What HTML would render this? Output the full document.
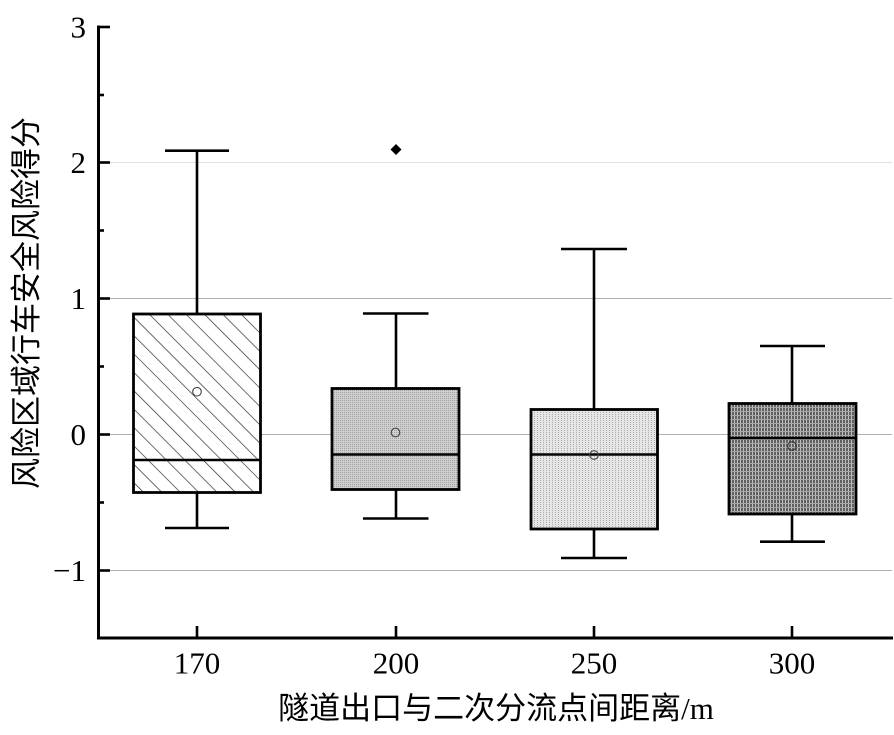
<!DOCTYPE html>
<html>
<head>
<meta charset="utf-8">
<style>
  html, body { margin: 0; padding: 0; background: #fff; }
  svg { display: block; }
  .tl { font-family: "Liberation Serif", "Noto Serif CJK SC", serif; font-size: 31px; fill: #000; }
  .ttl { font-family: "Liberation Serif", "Noto Sans CJK SC", sans-serif; font-size: 31px; fill: #000; }
</style>
</head>
<body>
<svg width="894" height="735" viewBox="0 0 894 735" xmlns="http://www.w3.org/2000/svg">
  <defs>
    <pattern id="hatch" patternUnits="userSpaceOnUse" width="13" height="13" patternTransform="rotate(-45)">
      <rect width="13" height="13" fill="#fff"/>
      <line x1="0" y1="0" x2="0" y2="13" stroke="#222" stroke-width="1.3"/>
    </pattern>
    <pattern id="dots2" patternUnits="userSpaceOnUse" width="2" height="2">
      <rect width="2" height="2" fill="#d0d0d0"/>
      <rect width="1" height="1" fill="#a0a0a0"/>
    </pattern>
    <pattern id="dots3" patternUnits="userSpaceOnUse" width="3" height="2">
      <rect width="3" height="2" fill="#e6e6e6"/>
      <rect width="1" height="1" fill="#aaaaaa"/>
    </pattern>
    <pattern id="vlines" patternUnits="userSpaceOnUse" width="3" height="4">
      <rect width="3" height="4" fill="#c0c0c0"/>
      <rect width="2" height="4" fill="#606060"/>
      <rect y="3" width="3" height="1" fill="#a8a8a8"/>
    </pattern>
  </defs>

  <!-- gridlines -->
  <line x1="99" y1="162.5" x2="892" y2="162.5" stroke="#e0e0e0" stroke-width="1"/>
  <line x1="99" y1="298.5" x2="892" y2="298.5" stroke="#b0b0b0" stroke-width="1"/>
  <line x1="99" y1="434.5" x2="892" y2="434.5" stroke="#b0b0b0" stroke-width="1"/>
  <line x1="99" y1="570.5" x2="892" y2="570.5" stroke="#b0b0b0" stroke-width="1"/>

  <!-- axes -->
  <line x1="98.5" y1="25.5" x2="98.5" y2="639.5" stroke="#000" stroke-width="3"/>
  <line x1="97" y1="638" x2="893" y2="638" stroke="#000" stroke-width="3"/>

  <!-- y ticks -->
  <g stroke="#000" stroke-width="2.6">
    <line x1="98" y1="27" x2="110" y2="27"/>
    <line x1="98" y1="162.5" x2="110" y2="162.5"/>
    <line x1="98" y1="298.5" x2="110" y2="298.5"/>
    <line x1="98" y1="434.5" x2="110" y2="434.5"/>
    <line x1="98" y1="570.5" x2="110" y2="570.5"/>
    <line x1="98" y1="95" x2="104" y2="95"/>
    <line x1="98" y1="230.5" x2="104" y2="230.5"/>
    <line x1="98" y1="366.5" x2="104" y2="366.5"/>
    <line x1="98" y1="502.5" x2="104" y2="502.5"/>
  </g>
  <!-- x ticks -->
  <g stroke="#000" stroke-width="2.6">
    <line x1="197" y1="626" x2="197" y2="638"/>
    <line x1="396" y1="626" x2="396" y2="638"/>
    <line x1="594" y1="626" x2="594" y2="638"/>
    <line x1="792" y1="626" x2="792" y2="638"/>
  </g>

  <!-- y tick labels -->
  <text class="tl" x="86" y="37.5" text-anchor="end">3</text>
  <text class="tl" x="86" y="173" text-anchor="end">2</text>
  <text class="tl" x="86" y="309" text-anchor="end">1</text>
  <text class="tl" x="86" y="445" text-anchor="end">0</text>
  <text class="tl" x="86" y="581" text-anchor="end">−1</text>

  <!-- x tick labels -->
  <text class="tl" x="197" y="673.5" text-anchor="middle">170</text>
  <text class="tl" x="396" y="673.5" text-anchor="middle">200</text>
  <text class="tl" x="594" y="673.5" text-anchor="middle">250</text>
  <text class="tl" x="792" y="673.5" text-anchor="middle">300</text>

  <!-- axis titles -->
  <text class="ttl" x="496" y="719" text-anchor="middle">隧道出口与二次分流点间距离/m</text>
  <text class="ttl" transform="translate(37,303) rotate(-90)" text-anchor="middle">风险区域行车安全风险得分</text>

  <!-- Box 1: 170 -->
  <g stroke="#000" stroke-width="2.6" fill="none">
    <line x1="197" y1="150.7" x2="197" y2="314"/>
    <line x1="165" y1="150.7" x2="229" y2="150.7"/>
    <line x1="197" y1="492.5" x2="197" y2="528"/>
    <line x1="165" y1="528" x2="229" y2="528"/>
    <rect x="133.5" y="314" width="127" height="178.5" fill="url(#hatch)" stroke-width="2.8"/>
    <line x1="133.5" y1="460" x2="260.5" y2="460"/>
  </g>
  <circle cx="197" cy="391.7" r="4.3" fill="none" stroke="#444" stroke-width="1.1"/>

  <!-- Box 2: 200 -->
  <g stroke="#000" stroke-width="2.6" fill="none">
    <line x1="396" y1="313.5" x2="396" y2="388.5"/>
    <line x1="363" y1="313.5" x2="428.5" y2="313.5"/>
    <line x1="396" y1="489.5" x2="396" y2="518.5"/>
    <line x1="363" y1="518.5" x2="428.5" y2="518.5"/>
    <rect x="332" y="388.5" width="127" height="101" fill="url(#dots2)" stroke-width="2.8"/>
    <line x1="332" y1="454.5" x2="459" y2="454.5"/>
  </g>
  <circle cx="395.5" cy="432.5" r="4.3" fill="none" stroke="#444" stroke-width="1.1"/>
  <polygon points="396,144 401.5,149.5 396,155 390.5,149.5" fill="#000"/>

  <!-- Box 3: 250 -->
  <g stroke="#000" stroke-width="2.6" fill="none">
    <line x1="594" y1="249" x2="594" y2="409.5"/>
    <line x1="561" y1="249" x2="627" y2="249"/>
    <line x1="594" y1="529" x2="594" y2="558"/>
    <line x1="561" y1="558" x2="627" y2="558"/>
    <rect x="531" y="409.5" width="126.5" height="119.5" fill="url(#dots3)" stroke-width="2.8"/>
    <line x1="531" y1="454.5" x2="657.5" y2="454.5"/>
  </g>
  <circle cx="594" cy="455" r="4.3" fill="none" stroke="#444" stroke-width="1.1"/>

  <!-- Box 4: 300 -->
  <g stroke="#000" stroke-width="2.6" fill="none">
    <line x1="792" y1="346" x2="792" y2="403.5"/>
    <line x1="760" y1="346" x2="825" y2="346"/>
    <line x1="792" y1="514" x2="792" y2="541.7"/>
    <line x1="760" y1="541.7" x2="825" y2="541.7"/>
    <rect x="729" y="403.5" width="127" height="110.5" fill="url(#vlines)" stroke-width="2.8"/>
    <line x1="729" y1="438" x2="856" y2="438"/>
  </g>
  <circle cx="792" cy="446" r="4.3" fill="none" stroke="#333" stroke-width="1.1"/>
</svg>
</body>
</html>
